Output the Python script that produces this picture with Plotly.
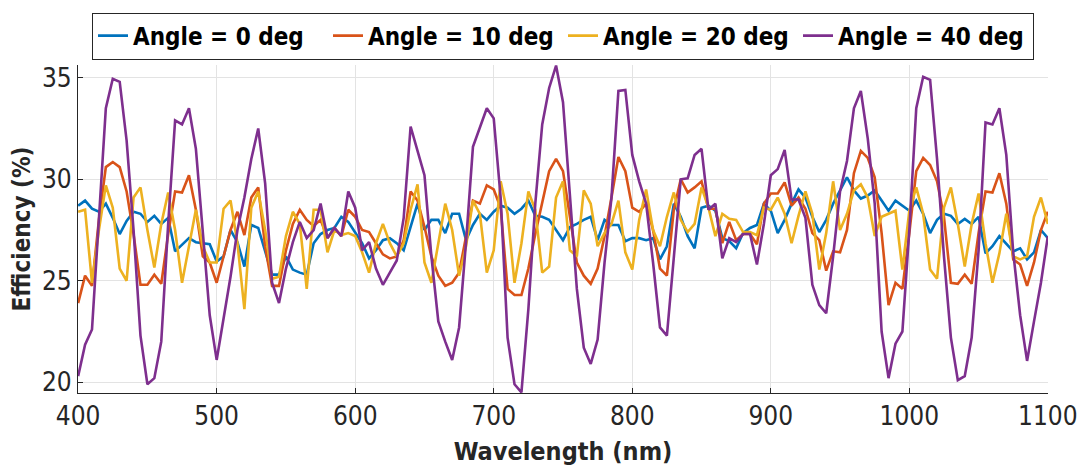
import plotly.graph_objects as go

wavelength = list(range(400, 1101, 5))

angle0 = [28.7, 28.95, 28.55, 28.4, 28.8, 28.1, 27.3, 27.95, 28.4, 28.3,
          27.9, 28.2, 27.8, 28.1, 26.45, 26.8, 27.1, 26.9, 26.85, 26.8,
          25.95, 26.2, 27.5, 26.9, 25.7, 27.75, 27.6, 26.4, 25.3, 25.3,
          26.2, 25.55, 25.4, 25.3, 26.85, 27.3, 27.5, 27.6, 28.15, 27.9,
          27.35, 26.85, 26.1, 26.5, 27.0, 27.1, 26.85, 26.5, 27.65, 28.8,
          27.5, 28.0, 28.0, 27.35, 28.3, 28.3, 27.0, 27.75, 28.3, 28.0,
          28.4, 28.7, 28.6, 28.3, 28.55, 28.95, 28.2, 28.15, 28.0, 27.5,
          27.0, 27.65, 27.8, 28.0, 28.15, 27.0, 28.0, 27.75, 27.75, 26.95,
          27.1, 27.1, 27.0, 27.1, 26.05, 26.7, 28.8, 28.15, 27.2, 26.6,
          28.6, 28.7, 28.45, 27.1, 26.95, 26.6, 27.35, 27.6, 27.75, 28.8,
          28.45, 27.35, 28.0, 28.8, 29.5, 29.1, 28.15, 27.4, 28.0, 28.8,
          29.45, 30.1, 29.45, 29.05, 29.2, 29.45, 28.95, 28.45, 28.95, 28.7,
          28.45, 28.95, 28.3, 27.35, 28.0, 28.3, 28.2, 27.8, 28.05, 27.8,
          28.15, 26.35, 26.7, 27.2, 26.8, 26.45, 26.6, 26.05, 26.4, 27.5,
          27.1]

angle10 = [23.9, 25.25, 24.75, 28.0, 30.6, 30.85, 30.6, 29.4, 27.3, 24.8,
           24.8, 25.3, 24.85, 27.3, 29.4, 29.35, 30.2, 28.5, 26.2, 25.9,
           24.9, 26.2, 27.5, 28.4, 27.25, 29.1, 29.6, 26.7, 24.75, 24.75,
           26.5, 27.8, 28.5, 28.0, 27.7, 28.0, 27.1, 27.6, 27.2, 28.5,
           28.15, 27.5, 27.4, 26.85, 26.3, 26.1, 26.2, 27.0, 29.4, 28.95,
           27.65, 26.2, 25.25, 24.75, 24.9, 25.4, 27.1, 28.95, 28.8, 29.7,
           29.5, 28.6, 24.6, 24.3, 24.3, 25.6, 27.3, 28.8, 30.4, 31.0,
           30.4, 28.15, 25.9, 25.25, 24.85, 25.6, 27.2, 29.1, 31.1, 30.4,
           28.6, 28.4, 28.8, 27.5, 25.6, 25.25, 28.5, 30.0, 29.35, 29.6,
           29.9, 28.55, 28.55, 26.85, 27.9, 27.0, 27.3, 27.3, 26.8, 28.8,
           29.3, 29.3, 29.85, 28.7, 29.1, 28.55, 27.35, 27.0, 25.5, 26.45,
           26.4, 27.5, 30.3, 31.4, 31.05, 30.1, 27.35, 23.8, 24.9, 24.6,
           27.35, 30.4, 31.05, 30.7, 29.9, 28.15, 24.9, 24.85, 25.3, 24.85,
           27.35, 29.4, 29.35, 30.3, 28.8, 26.05, 25.8, 24.75, 25.9, 27.5,
           28.4]

angle20 = [28.4, 28.5, 24.9, 27.5, 29.7, 28.6, 25.6, 25.0, 29.1, 29.6,
           27.5, 25.65, 27.8, 29.35, 27.5, 24.9, 26.7, 28.5, 26.7, 25.9,
           25.9, 28.55, 28.95, 26.85, 23.6, 28.6, 29.4, 27.5, 25.1, 25.2,
           27.2, 28.4, 27.8, 24.6, 28.5, 28.5, 26.4, 27.5, 27.25, 27.35,
           27.2, 26.4, 25.4, 26.85, 27.8, 26.85, 26.2, 26.85, 28.5, 29.75,
           25.9, 24.9, 26.85, 28.8, 27.5, 25.25, 26.7, 28.95, 28.3, 25.4,
           26.5, 29.9, 28.3, 24.9, 26.85, 29.4, 28.5, 25.4, 25.7, 29.1,
           29.9, 26.5, 26.2, 29.45, 28.8, 26.7, 27.35, 27.8, 28.95, 26.4,
           25.55, 28.0, 29.5, 27.5, 26.7, 28.15, 29.35, 28.0, 27.4, 27.8,
           29.6, 28.6, 27.2, 28.3, 28.05, 28.0, 27.4, 27.4, 27.25, 28.6,
           28.5, 29.1, 28.3, 26.85, 28.2, 29.4, 28.3, 25.55, 27.35, 29.9,
           27.5, 28.3, 29.45, 29.75, 29.1, 27.2, 28.15, 28.3, 28.45, 25.55,
           28.45, 29.6, 28.3, 25.55, 25.1, 28.6, 29.6, 27.8, 25.7, 27.8,
           29.3, 26.85, 24.9, 26.35, 28.3, 26.2, 26.05, 26.2, 28.15, 29.1,
           27.8]

angle40 = [20.3, 21.85, 22.6, 28.1, 33.5, 34.95, 34.8, 31.9, 27.5, 22.3,
           19.9, 20.2, 22.0, 27.8, 32.9, 32.7, 33.5, 31.5, 27.2, 23.3,
           21.1, 23.1, 25.2, 27.5, 29.1, 31.0, 32.5, 29.8, 24.9, 23.9,
           25.6, 26.9, 27.9, 27.1, 27.5, 28.8, 27.1, 27.6, 27.2, 29.4,
           28.6, 26.5, 26.9, 25.6, 24.8, 25.4, 26.0, 28.1, 32.6, 31.4,
           30.2, 26.2, 23.0, 22.0, 21.1, 22.7, 26.9, 31.6, 32.6, 33.5,
           33.0, 29.1, 22.2, 19.9, 19.5, 23.6, 28.8, 32.7, 34.5, 35.6,
           33.8, 29.4, 24.6, 21.7, 20.9, 22.1, 25.9, 29.1, 34.35, 34.4,
           31.2, 29.9, 28.8, 25.9, 22.7, 22.3, 26.2, 30.0, 30.05, 31.2,
           31.5, 28.5, 28.8, 26.1, 27.1, 26.9, 27.3, 27.3, 25.8, 27.8,
           30.2, 30.5, 31.45, 29.0, 29.0, 28.1, 24.8, 23.8, 23.4, 26.2,
           29.4, 30.9, 33.5, 34.35, 32.0, 28.8, 22.5, 20.2, 21.9, 22.5,
           27.5, 33.5, 35.05, 34.9, 31.0, 26.2, 22.2, 20.1, 20.3, 22.2,
           26.5, 32.8, 32.7, 33.5, 31.2, 26.4, 23.3, 21.05, 23.0, 24.9,
           27.2]

series_names = ["Angle = 0 deg", "Angle = 10 deg", "Angle = 20 deg", "Angle = 40 deg"]
series_values = [angle0, angle10, angle20, angle40]
series_colors = ["#0072BD", "#D95319", "#EDB120", "#7E2F8E"]

x_ticks = [400, 500, 600, 700, 800, 900, 1000, 1100]
y_ticks = [20, 25, 30, 35]

FONT = "Liberation Sans Narrow, DejaVu Sans Condensed, Arial Narrow, Liberation Sans, Arial, sans-serif"

fig = go.Figure()
for name, vals, col in zip(series_names, series_values, series_colors):
    fig.add_trace(go.Scatter(x=wavelength, y=vals, mode="lines", name="<b>" + name + "</b>",
                             line=dict(color=col, width=2.6)))

axis_common = dict(
    showline=True, linecolor="#262626", linewidth=1.2,
    ticks="inside", ticklen=5, tickcolor="#262626", tickwidth=1,
    showgrid=True, gridcolor="#e3e3e3", gridwidth=1,
    zeroline=False, mirror=False, automargin=False,
    tickfont=dict(family=FONT, size=26, color="#262626"),
    tickprefix="<b>", ticksuffix="</b>",
)

fig.update_layout(
    width=1079, height=472,
    margin=dict(l=78, r=31, t=57, b=79),
    paper_bgcolor="white", plot_bgcolor="white",
    font=dict(family=FONT, color="#262626"),
    xaxis=dict(range=[399.9, 1100.1], tickvals=x_ticks,
               title=dict(text="<b>Wavelength (nm)</b>", font=dict(family=FONT, size=25, color="#262626"), standoff=12),
               **axis_common),
    yaxis=dict(range=[19.47, 35.63], tickvals=y_ticks,
               title=dict(text="<b>Efficiency (%)</b>", font=dict(family=FONT, size=24, color="#262626"), standoff=4),
               **axis_common),
    legend=dict(orientation="h", x=0.5, xanchor="center", y=1.16, yanchor="top",
                bordercolor="#262626", borderwidth=1, bgcolor="white",
                font=dict(family=FONT, size=24, color="#000000"),
                entrywidth=190, entrywidthmode="pixels", itemwidth=30),
    showlegend=True,
)

fig.write_html("out.html")
